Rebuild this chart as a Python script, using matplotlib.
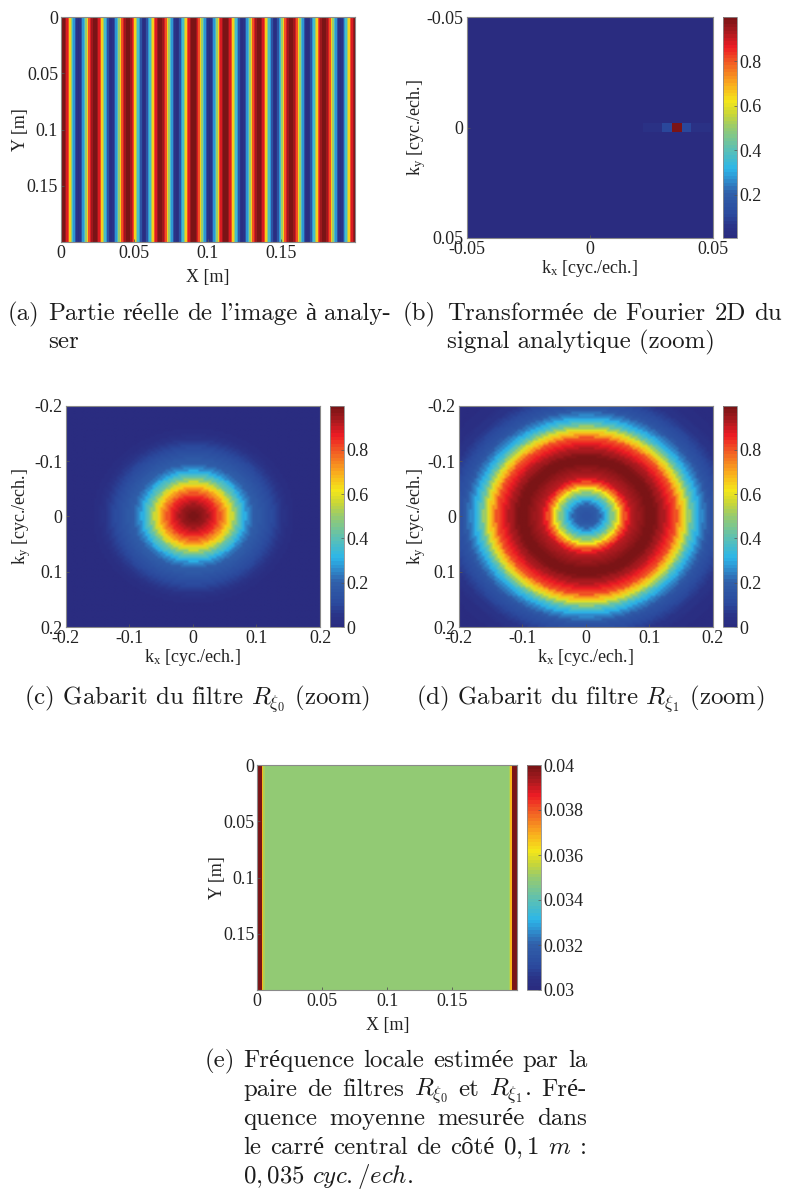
import matplotlib
matplotlib.use("Agg")
import matplotlib.pyplot as plt
import numpy as np
from matplotlib.colors import LinearSegmentedColormap

W, H = 787, 1189

# colours of the bar, low to high
jet_values = [0.0, 0.05, 0.1, 0.2, 0.26, 0.31, 0.4, 0.5, 0.56, 0.62, 0.7, 0.8, 0.87, 0.94, 1.0]
jet_colors = ["#2a2c80", "#2a3488", "#2b4a9e", "#3060aa", "#2f8fcf", "#2cb6e8", "#5cc0b4", "#97cb6f", "#c8d638",
              "#f4e61a", "#f9ab1e", "#f15a24", "#ed1c24", "#a81a1f", "#7b1416"]

# (a) stripes : centres of the dark red bands [m], value against distance to a centre (step 1 mm)
stripe_peaks = [0.0009, 0.0232, 0.0454, 0.0677, 0.0899, 0.1122, 0.1344, 0.1566, 0.1789, 0.2011]
stripe_profile = [1.0, 0.99, 0.95, 0.88, 0.8, 0.65, 0.5, 0.37, 0.27, 0.15, 0.06, 0.02]

# (b) the only non zero cells, on the row k_y = 0
peak_kx = [0.0233, 0.0272, 0.0311, 0.035, 0.0389, 0.0428, 0.0467]
peak_values = [0.05, 0.05, 0.1, 1.0, 0.1, 0.05, 0.05]

# (c) (d) filters, value against radius (step 0.005 cyc./ech.)
filter0 = [1.0, 0.995, 0.98, 0.96, 0.94, 0.91, 0.88, 0.85, 0.81, 0.76, 0.71, 0.65, 0.57, 0.49, 0.42, 0.36,
           0.31, 0.26, 0.22, 0.2, 0.18, 0.165, 0.15, 0.13, 0.115, 0.1, 0.08, 0.065, 0.05, 0.04, 0.03, 0.02, 0.01]
filter1 = [0.15, 0.155, 0.165, 0.18, 0.21, 0.26, 0.32, 0.39, 0.46, 0.54, 0.62, 0.72, 0.81, 0.87, 0.91, 0.93,
           0.95, 0.96, 0.98, 0.99, 1.0, 0.99, 0.97, 0.95, 0.93, 0.9, 0.87, 0.84, 0.8, 0.73, 0.66, 0.58,
           0.5, 0.42, 0.35, 0.3, 0.26, 0.22, 0.18, 0.15, 0.13, 0.11, 0.1, 0.085, 0.07, 0.06, 0.05, 0.04,
           0.03, 0.025, 0.02, 0.015, 0.01]

# (e) local frequency : value against distance to the side (step 1 mm), then the flat middle
freq_edge = [0.04, 0.04, 0.04, 0.04, 0.0368, 0.0352]
freq_middle = 0.0349

m_ticks = [0, 0.05, 0.1, 0.15]
m_labels = ["0", "0.05", "0.1", "0.15"]
k_ticks_b = [-0.05, 0, 0.05]
k_labels_b = ["-0.05", "0", "0.05"]
k_ticks = [-0.2, -0.1, 0, 0.1, 0.2]
k_labels = ["-0.2", "-0.1", "0", "0.1", "0.2"]
cb_ticks = [0.2, 0.4, 0.6, 0.8]
cb_labels = ["0.2", "0.4", "0.6", "0.8"]
cb_ticks0 = [0, 0.2, 0.4, 0.6, 0.8]
cb_labels0 = ["0", "0.2", "0.4", "0.6", "0.8"]
cb_ticks_e = [0.03, 0.032, 0.034, 0.036, 0.038, 0.04]
cb_labels_e = ["0.03", "0.032", "0.034", "0.036", "0.038", "0.04"]

plt.rcParams["font.family"] = ["Liberation Serif"]
plt.rcParams["font.size"] = 13
plt.rcParams["mathtext.fontset"] = "custom"
plt.rcParams["mathtext.rm"] = "Liberation Serif"
plt.rcParams["mathtext.it"] = "Liberation Serif:italic"

cmap = LinearSegmentedColormap.from_list("jet2", list(zip(jet_values, jet_colors)), N=64)
fig = plt.figure(figsize=(W / 100, H / 100), dpi=100)
GREY = "#8a8a8a"
INK = "#222222"
KX = r"k$_{\mathrm{x}}$ [cyc./ech.]"
KY = r"k$_{\mathrm{y}}$ [cyc./ech.]"


def box(x0, y0, x1, y1):
    return fig.add_axes([x0 / W, 1 - y1 / H, (x1 - x0) / W, (y1 - y0) / H])


def panel(z, extent, pos, cbar_x, vmin, vmax, cticks, clabels, xt, xl, xname, yname, lab_x, lab_y, interp="nearest"):
    ax = box(*pos)
    im = ax.imshow(z, cmap=cmap, vmin=vmin, vmax=vmax, extent=extent, aspect="auto", interpolation=interp)
    ax.set_xticks(xt)
    ax.set_xticklabels(xl)
    ax.set_yticks(xt)
    ax.set_yticklabels(xl)
    ax.tick_params(direction="in", length=2, width=0.6, color="#555555", labelcolor=INK, pad=2)
    for s in ax.spines.values():
        s.set_color(GREY)
        s.set_linewidth(0.8)
    ax.set_xlabel(xname, color=INK)
    ax.set_ylabel(yname, color=INK)
    # label places, given in pixels of the figure
    ax.xaxis.set_label_coords(0.5, (pos[3] - lab_x) / (pos[3] - pos[1]))
    ax.yaxis.set_label_coords((lab_y - pos[0]) / (pos[2] - pos[0]), 0.5)
    if cbar_x:
        cax = box(cbar_x, pos[1], cbar_x + 14, pos[3])
        cb = fig.colorbar(im, cax=cax)
        cb.set_ticks(cticks)
        cb.set_ticklabels(clabels)
        cb.outline.set_edgecolor(GREY)
        cb.outline.set_linewidth(0.6)
        cax.tick_params(direction="in", length=2, width=0.5, color="#555555", labelcolor=INK, pad=1.5)
    return ax


def caption(text, y, x0, x1=None, size=17.9):
    kw = dict(fontsize=size, color="#1c1c1c", family=["cmr10", "Liberation Serif"], math_fontfamily="cm", va="baseline")
    if x1 is None:
        fig.text(x0 / W, 1 - y / H, text, **kw)
        return
    # justified line, word by word
    rend = fig.canvas.get_renderer()
    words = [fig.text(x0 / W, 1 - y / H, w, **kw) for w in text.split(" ")]
    sizes = [w.get_window_extent(rend).width for w in words]
    gap = (x1 - x0 - sum(sizes)) / (len(words) - 1)
    x = x0
    for w, s in zip(words, sizes):
        w.set_x(x / W)
        x += s + gap


# (a)
xa = np.arange(0.00025, 0.2, 0.0005)
dist = np.min(np.abs(xa[:, None] - np.array(stripe_peaks)), axis=1)
row_a = np.array(stripe_profile)[np.minimum(np.round(dist / 0.001).astype(int), len(stripe_profile) - 1)]
panel(row_a[None, :], (0, 0.2, 0.2, 0), (61, 17, 354.5, 242), None, 0, 1, [], [], m_ticks, m_labels,
      "X [m]", "Y [m]", 269, 29)

# (b)
kb = 0.035 + 0.0039 * np.arange(-22, 5)
zb = np.full((27, 27), 0.005)
for k, v in zip(peak_kx, peak_values):
    zb[13, np.argmin(np.abs(kb - k))] = v
axb = panel(zb, (kb[0] - 0.00195, kb[-1] + 0.00195, 0.0527, -0.0527), (466.5, 17, 713, 238), 723, 0.005, 1,
            cb_ticks, cb_labels, k_ticks_b, k_labels_b, KX, KY, 258, 428)
axb.set_xlim(-0.05, 0.05)
axb.set_ylim(0.05, -0.05)

# (c) and (d)
kk = np.arange(-0.198, 0.2, 0.004)
rad = np.hypot(kk[:, None], kk[None, :])


def radial(profile):
    vals = np.array(profile + [0.0])
    return vals[np.minimum(np.round(rad / 0.005).astype(int), len(profile))]


panel(radial(filter0), (-0.2, 0.2, 0.2, -0.2), (65.5, 405.7, 320, 627), 330, 0, 1, cb_ticks0, cb_labels0,
      k_ticks, k_labels, KX, KY, 647, 33, interp="bilinear")
panel(radial(filter1), (-0.2, 0.2, 0.2, -0.2), (458.7, 405.7, 713, 627), 723, 0, 1, cb_ticks0, cb_labels0,
      k_ticks, k_labels, KX, KY, 647, 428, interp="bilinear")

# (e)
row_e = np.full(200, freq_middle)
row_e[:len(freq_edge)] = freq_edge
row_e[-len(freq_edge):] = freq_edge[::-1]
panel(row_e[None, :], (0, 0.2, 0.2, 0), (257.3, 765, 517.3, 990), 527, 0.03, 0.04, cb_ticks_e, cb_labels_e,
      m_ticks, m_labels, "X [m]", "Y [m]", 1017, 226)

# captions
caption("(a)", 320, 8)
caption("Partie réelle de l'image à analy-", 320, 48, 391)
caption("ser", 348.5, 48)
caption("(b)", 320, 403)
caption("Transformée de Fourier 2D du", 320, 447, 782)
caption("signal analytique (zoom)", 348.5, 447)
caption(r"(c) Gabarit du filtre $R_{\xi_0}$ (zoom)", 705, 24)
caption(r"(d) Gabarit du filtre $R_{\xi_1}$ (zoom)", 705, 416)
caption("(e)", 1067, 205)
caption("Fréquence locale estimée par la", 1067, 243, 587)
caption(r"paire de filtres $R_{\xi_0}$ et $R_{\xi_1}$. Fré-", 1096, 243, 587)
caption("quence moyenne mesurée dans", 1125, 243, 587)
caption(r"le carré central de côté $0,1$ $m$ :", 1154, 243, 587)
caption(r"$0,035$ $cyc./ech.$", 1183, 243)

fig.savefig("out.png", dpi=100)
